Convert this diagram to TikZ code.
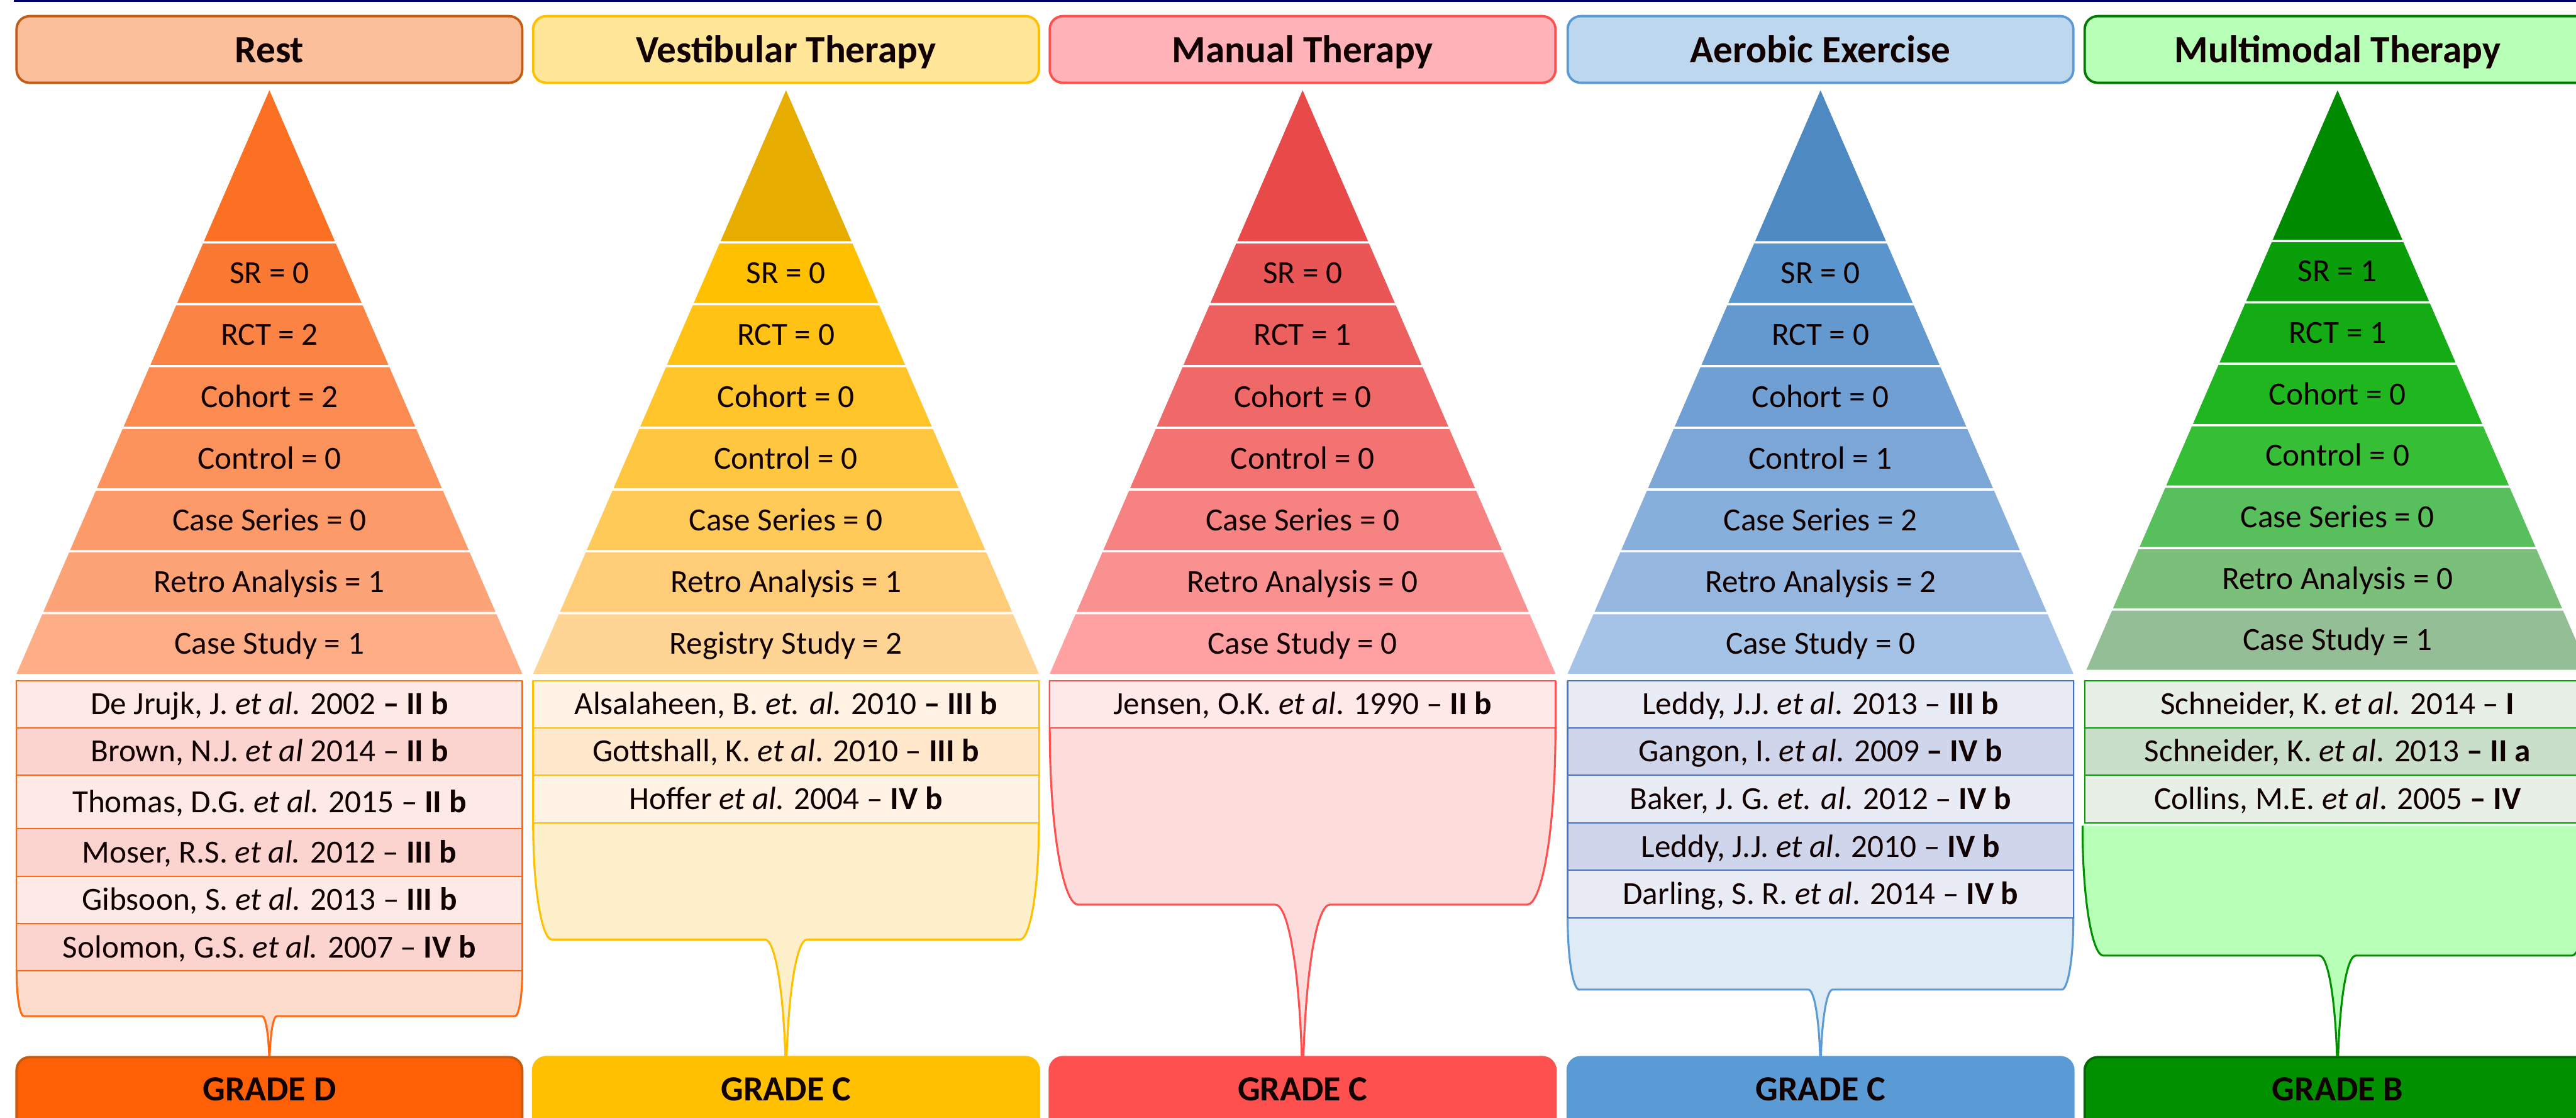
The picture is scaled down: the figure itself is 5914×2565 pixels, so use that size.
\documentclass[tikz,border=0pt]{standalone}
\usepackage{fontspec}
\setmainfont{Carlito}
% colours
\definecolor{navy}{HTML}{000066}
\definecolor{txtc}{HTML}{110000}
% Rest
\definecolor{aHf}{HTML}{FCBF9B}\definecolor{aHd}{HTML}{C55A11}
\definecolor{aT}{HTML}{FB7022}
\definecolor{a1}{HTML}{FB7A33}\definecolor{a2}{HTML}{FB8343}\definecolor{a3}{HTML}{FB8B50}
\definecolor{a4}{HTML}{FC935D}\definecolor{a5}{HTML}{FC9B69}\definecolor{a6}{HTML}{FCA477}\definecolor{a7}{HTML}{FDAE86}
\definecolor{aL}{HTML}{FDEAE7}\definecolor{aD}{HTML}{FCD4CF}\definecolor{aB}{HTML}{FF6A13}
\definecolor{aBf}{HTML}{FDDCCB}\definecolor{aG}{HTML}{FF5F05}
% Vestibular
\definecolor{bHf}{HTML}{FFE699}\definecolor{bHd}{HTML}{FFC000}
\definecolor{bT}{HTML}{E6AC00}
\definecolor{b1}{HTML}{FFC000}\definecolor{b2}{HTML}{FFC215}\definecolor{b3}{HTML}{FFC52B}
\definecolor{b4}{HTML}{FFC740}\definecolor{b5}{HTML}{FFCA58}\definecolor{b6}{HTML}{FFCD78}\definecolor{b7}{HTML}{FFD596}
\definecolor{bL}{HTML}{FFF3E6}\definecolor{bD}{HTML}{FFE8CC}\definecolor{bB}{HTML}{FFC000}
\definecolor{bBf}{HTML}{FFF0CC}\definecolor{bG}{HTML}{FFC000}
% Manual
\definecolor{cHf}{HTML}{FFB3B8}\definecolor{cHd}{HTML}{FF5050}
\definecolor{cT}{HTML}{E84A4A}
\definecolor{c1}{HTML}{EA5656}\definecolor{c2}{HTML}{ED6060}\definecolor{c3}{HTML}{F06969}
\definecolor{c4}{HTML}{F37373}\definecolor{c5}{HTML}{F78282}\definecolor{c6}{HTML}{FA9191}\definecolor{c7}{HTML}{FFA0A2}
\definecolor{cL}{HTML}{FFE9E9}\definecolor{cB}{HTML}{FF5050}
\definecolor{cBf}{HTML}{FDDCDC}\definecolor{cG}{HTML}{FF5050}
% Aerobic
\definecolor{dHf}{HTML}{BDD7EE}\definecolor{dHd}{HTML}{5B9BD5}
\definecolor{dT}{HTML}{4F89C2}
\definecolor{d1}{HTML}{5A95CE}\definecolor{d2}{HTML}{6499D0}\definecolor{d3}{HTML}{70A0D3}
\definecolor{d4}{HTML}{7BA6D6}\definecolor{d5}{HTML}{87AFDB}\definecolor{d6}{HTML}{95B7DF}\definecolor{d7}{HTML}{A5C3E6}
\definecolor{dL}{HTML}{E9ECF5}\definecolor{dD}{HTML}{CFD5EA}\definecolor{dB}{HTML}{4472C4}
\definecolor{dBf}{HTML}{DEEAF6}\definecolor{dBd}{HTML}{5B9BD5}\definecolor{dG}{HTML}{5B9BD5}
% Multimodal
\definecolor{eHf}{HTML}{B8FFB8}\definecolor{eHd}{HTML}{007A00}
\definecolor{eT}{HTML}{008A00}
\definecolor{e1}{HTML}{0A9E0A}\definecolor{e2}{HTML}{14AB14}\definecolor{e3}{HTML}{20B620}
\definecolor{e4}{HTML}{36BF36}\definecolor{e5}{HTML}{57C05C}\definecolor{e6}{HTML}{7ABF7A}\definecolor{e7}{HTML}{94BF96}
\definecolor{eL}{HTML}{E7EFE7}\definecolor{eD}{HTML}{CADFCA}\definecolor{eB}{HTML}{00A000}
\definecolor{eBf}{HTML}{B8FFB8}\definecolor{eBd}{HTML}{009000}\definecolor{eG}{HTML}{009000}\definecolor{eGd}{HTML}{006A00}

\tikzset{
  txt/.style={font=\fontsize{14.8}{17}\selectfont, inner sep=0pt, text=txtc},
  hdrtxt/.style={font=\fontsize{17.7}{20}\selectfont\bfseries, inner sep=0pt, text=txtc},
  grdtxt/.style={font=\fontsize{16.2}{19}\selectfont\bfseries, inner sep=0pt, text=txtc},
  hdrbox/.style={rounded corners=6pt, line width=1.1pt},
  rowline/.style={line width=0.55pt},
  balloon/.style={line width=0.9pt, line join=round},
}

% pyramid top triangle: cx, y0, colour
\newcommand\PTop[3]{%
  \pgfmathsetmacro\ptw{0.4335*(#2-207)}%
  \fill[#3] (#1,207) -- (#1+\ptw,#2) -- (#1-\ptw,#2) -- cycle;}
% pyramid row: name, cx, k, y0, pitch, colour, text
\newcommand\PRow[7]{%
  \pgfmathsetmacro\pya{#4+#3*#5+5.5}%
  \pgfmathsetmacro\pyb{#4+(#3+1)*#5}%
  \pgfmathsetmacro\pwa{0.4335*(\pya-207)}%
  \pgfmathsetmacro\pwb{0.4335*(\pyb-207)}%
  \pgfmathsetmacro\pym{(\pya+\pyb)/2+23.5}%
  \fill[#6] (#2-\pwa,\pya) -- (#2+\pwa,\pya) -- (#2+\pwb,\pyb) -- (#2-\pwb,\pyb) -- cycle;
  \node[txt,anchor=base] (#1) at (#2,\pym) {#7};}
% citation row: name, x0, ya, yb, fill, draw, text
\newcommand\CRow[7]{%
  \filldraw[rowline, fill=#5, draw=#6] (#2,#3) rectangle (#2+1161,#4);
  \pgfmathsetmacro\cym{(#3+#4)/2+23.5}%
  \node[txt,anchor=base] (#1) at (#2+580.5,\cym) {#7};}
% header: name, x0, fill, draw, text
\newcommand\Header[5]{%
  \filldraw[hdrbox, fill=#3, draw=#4] (#2,37) rectangle (#2+1161,190);
  \node[hdrtxt,anchor=base] (#1) at (#2+580.5,143) {#5};}
% grade: name, x0, fill, draw, text
\newcommand\Grade[5]{%
  \filldraw[hdrbox, fill=#3, draw=#4] (#2,2426) rectangle (#2+1161,2660);
  \node[grdtxt,anchor=base] (#1) at (#2+580.5,2526) {#5};}
% balloon: x0, x1, ytop, ys, ybot, cx, fill, draw
\newcommand\Balloon[8]{%
  \pgfmathsetmacro\bH{#5-#4}%
  \pgfmathsetmacro\bi{0.16*\bH}%
  \pgfmathsetmacro\bL{2426-#5}%
  \pgfmathsetmacro\bt{0.18*\bL}%
  \fill[#7] (#1,#3) -- (#1,#4) .. controls (#1,#4+0.6*\bH) and (#1+0.5*\bi,#5) .. (#1+\bi,#5)
    -- (#6-\bt,#5) .. controls (#6-0.5*\bt,#5) and (#6-0.12*\bt,#5+0.45*\bL) .. (#6-0.03*\bt,2426)
    -- (#6+0.03*\bt,2426) .. controls (#6+0.12*\bt,#5+0.45*\bL) and (#6+0.5*\bt,#5) .. (#6+\bt,#5)
    -- (#2-\bi,#5) .. controls (#2-0.5*\bi,#5) and (#2,#4+0.6*\bH) .. (#2,#4) -- (#2,#3) -- cycle;
  \draw[balloon,#8] (#1,#3) -- (#1,#4) .. controls (#1,#4+0.6*\bH) and (#1+0.5*\bi,#5) .. (#1+\bi,#5)
    -- (#6-\bt,#5) .. controls (#6-0.5*\bt,#5) and (#6-0.12*\bt,#5+0.45*\bL) .. (#6-0.03*\bt,2426)
    -- (#6+0.03*\bt,2426) .. controls (#6+0.12*\bt,#5+0.45*\bL) and (#6+0.5*\bt,#5) .. (#6+\bt,#5)
    -- (#2-\bi,#5) .. controls (#2-0.5*\bi,#5) and (#2,#4+0.6*\bH) .. (#2,#4) -- (#2,#3);}

\begin{document}
\begin{tikzpicture}[x=0.2pt,y=-0.2pt]
\useasboundingbox (0,0) rectangle (5914,2565);
\clip (0,0) rectangle (5914,2565);
\fill[white] (0,0) rectangle (5914,2565);
\fill[navy] (32,0) rectangle (5914,4.5);

% ---------- headers ----------
\Header{h1}{38}{aHf}{aHd}{Rest}
\Header{h2}{1224}{bHf}{bHd}{Vestibular Therapy}
\Header{h3}{2410}{cHf}{cHd}{Manual Therapy}
\Header{h4}{3599}{dHf}{dHd}{Aerobic Exercise}
\Header{h5}{4786}{eHf}{eHd}{Multimodal Therapy}

% ---------- pyramid: Rest ----------
\PTop{618.5}{553.5}{aT}
\PRow{p1a}{618.5}{0}{553.5}{141.8}{a1}{SR = 0}
\PRow{p1b}{618.5}{1}{553.5}{141.8}{a2}{RCT = 2}
\PRow{p1c}{618.5}{2}{553.5}{141.8}{a3}{Cohort = 2}
\PRow{p1d}{618.5}{3}{553.5}{141.8}{a4}{Control = 0}
\PRow{p1e}{618.5}{4}{553.5}{141.8}{a5}{Case Series = 0}
\PRow{p1f}{618.5}{5}{553.5}{141.8}{a6}{Retro Analysis = 1}
\PRow{p1g}{618.5}{6}{553.5}{141.8}{a7}{Case Study = 1}

% ---------- pyramid: Vestibular ----------
\PTop{1804.5}{553.5}{bT}
\PRow{p2a}{1804.5}{0}{553.5}{141.8}{b1}{SR = 0}
\PRow{p2b}{1804.5}{1}{553.5}{141.8}{b2}{RCT = 0}
\PRow{p2c}{1804.5}{2}{553.5}{141.8}{b3}{Cohort = 0}
\PRow{p2d}{1804.5}{3}{553.5}{141.8}{b4}{Control = 0}
\PRow{p2e}{1804.5}{4}{553.5}{141.8}{b5}{Case Series = 0}
\PRow{p2f}{1804.5}{5}{553.5}{141.8}{b6}{Retro Analysis = 1}
\PRow{p2g}{1804.5}{6}{553.5}{141.8}{b7}{Registry Study = 2}

% ---------- pyramid: Manual ----------
\PTop{2990.5}{553.5}{cT}
\PRow{p3a}{2990.5}{0}{553.5}{141.8}{c1}{SR = 0}
\PRow{p3b}{2990.5}{1}{553.5}{141.8}{c2}{RCT = 1}
\PRow{p3c}{2990.5}{2}{553.5}{141.8}{c3}{Cohort = 0}
\PRow{p3d}{2990.5}{3}{553.5}{141.8}{c4}{Control = 0}
\PRow{p3e}{2990.5}{4}{553.5}{141.8}{c5}{Case Series = 0}
\PRow{p3f}{2990.5}{5}{553.5}{141.8}{c6}{Retro Analysis = 0}
\PRow{p3g}{2990.5}{6}{553.5}{141.8}{c7}{Case Study = 0}

% ---------- pyramid: Aerobic ----------
\PTop{4179.5}{553.5}{dT}
\PRow{p4a}{4179.5}{0}{553.5}{141.8}{d1}{SR = 0}
\PRow{p4b}{4179.5}{1}{553.5}{141.8}{d2}{RCT = 0}
\PRow{p4c}{4179.5}{2}{553.5}{141.8}{d3}{Cohort = 0}
\PRow{p4d}{4179.5}{3}{553.5}{141.8}{d4}{Control = 1}
\PRow{p4e}{4179.5}{4}{553.5}{141.8}{d5}{Case Series = 2}
\PRow{p4f}{4179.5}{5}{553.5}{141.8}{d6}{Retro Analysis = 2}
\PRow{p4g}{4179.5}{6}{553.5}{141.8}{d7}{Case Study = 0}

% ---------- pyramid: Multimodal ----------
\PTop{5366.5}{550}{eT}
\PRow{p5a}{5366.5}{0}{550}{141}{e1}{SR = 1}
\PRow{p5b}{5366.5}{1}{550}{141}{e2}{RCT = 1}
\PRow{p5c}{5366.5}{2}{550}{141}{e3}{Cohort = 0}
\PRow{p5d}{5366.5}{3}{550}{141}{e4}{Control = 0}
\PRow{p5e}{5366.5}{4}{550}{141}{e5}{Case Series = 0}
\PRow{p5f}{5366.5}{5}{550}{141}{e6}{Retro Analysis = 0}
\PRow{p5g}{5366.5}{6}{550}{141}{e7}{Case Study = 1}

% ---------- balloons ----------
\Balloon{38}{1199}{1562}{2228}{2332}{618.5}{aBf}{aB}
\Balloon{1224}{2385}{1562}{1889}{2156}{1804.5}{bBf}{bB}
\Balloon{2410}{3571}{1562}{1670}{2076}{2990.5}{cBf}{cB}
\Balloon{3599}{4760}{1562}{2106}{2271}{4179.5}{dBf}{dBd}
\Balloon{4781}{5952}{1895}{1895}{2193}{5366.5}{eBf}{eBd}

% ---------- citation tables ----------
\CRow{t1a}{38}{1562}{1670.5}{aL}{aB}{De Jrujk, J. \textit{et al.} 2002 \textbf{– II b}}
\CRow{t1b}{38}{1670.5}{1779}{aD}{aB}{Brown, N.J. \textit{et al} 2014 – \textbf{II b}}
\CRow{t1c}{38}{1779}{1902}{aL}{aB}{Thomas, D.G. \textit{et al.} 2015 – \textbf{II b}}
\CRow{t1d}{38}{1902}{2011}{aD}{aB}{Moser, R.S. \textit{et al.} 2012 – \textbf{III b}}
\CRow{t1e}{38}{2011}{2120}{aL}{aB}{Gibsoon, S. \textit{et al.} 2013 – \textbf{III b}}
\CRow{t1f}{38}{2120}{2228}{aD}{aB}{Solomon, G.S. \textit{et al.} 2007 – \textbf{IV b}}

\CRow{t2a}{1224}{1562}{1670}{bL}{bB}{Alsalaheen, B. \textit{et. al.} 2010 \textbf{– III b}}
\CRow{t2b}{1224}{1670}{1779}{bD}{bB}{Gottshall, K. \textit{et al}. 2010 – \textbf{III b}}
\CRow{t2c}{1224}{1779}{1889}{bL}{bB}{Hoffer \textit{et al.} 2004 – \textbf{IV b}}

\CRow{t3a}{2410}{1562}{1670}{cL}{cB}{Jensen, O.K. \textit{et al}. 1990 – \textbf{II b}}

\CRow{t4a}{3599}{1562}{1670}{dL}{dB}{Leddy, J.J. \textit{et al}. 2013 – \textbf{III b}}
\CRow{t4b}{3599}{1670}{1779}{dD}{dB}{Gangon, I. \textit{et al}. 2009 \textbf{– IV b}}
\CRow{t4c}{3599}{1779}{1889}{dL}{dB}{Baker, J. G. \textit{et. al}. 2012 – \textbf{IV b}}
\CRow{t4d}{3599}{1889}{1997}{dD}{dB}{Leddy, J.J. \textit{et al}. 2010 – \textbf{IV b}}
\CRow{t4e}{3599}{1997}{2106}{dL}{dB}{Darling, S. R. \textit{et al}. 2014 – \textbf{IV b}}

\CRow{t5a}{4786}{1562}{1670}{eL}{eB}{Schneider, K. \textit{et al}. 2014 – \textbf{I}}
\CRow{t5b}{4786}{1670}{1779}{eD}{eB}{Schneider, K. \textit{et al}. 2013 \textbf{– II a}}
\CRow{t5c}{4786}{1779}{1889}{eL}{eB}{Collins, M.E. \textit{et al}. 2005 \textbf{– IV}}

% ---------- grades ----------
\Grade{g1}{38}{aG}{aHd}{GRADE D}
\Grade{g2}{1224}{bG}{bG}{GRADE C}
\Grade{g3}{2410}{cG}{cG}{GRADE C}
\Grade{g4}{3599}{dG}{dG}{GRADE C}
\Grade{g5}{4786}{eG}{eGd}{GRADE B}
\end{tikzpicture}
\end{document}
